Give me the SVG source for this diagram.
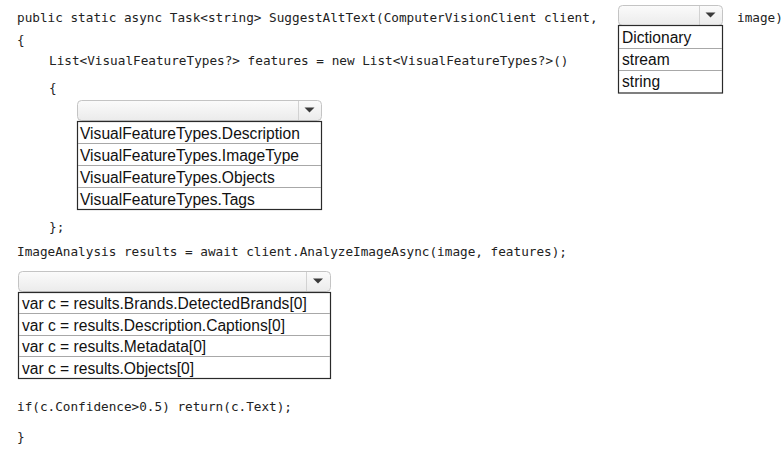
<svg xmlns="http://www.w3.org/2000/svg" width="783" height="452" viewBox="0 0 783 452">
<defs>
<linearGradient id="hdr" x1="0" y1="0" x2="0" y2="1">
<stop offset="0" stop-color="#fbfbfb"/>
<stop offset="1" stop-color="#ebebeb"/>
</linearGradient>
</defs>
<style>
.code{font-family:"DejaVu Sans Mono","Liberation Mono",monospace;font-size:12.7px;fill:#222}
.opt{font-family:"Liberation Sans",Arial,sans-serif;font-size:15.6px;fill:#111}
.hdr{fill:url(#hdr);stroke:#c4c4c4;stroke-width:1}
.sep{stroke:#d2d2d2;stroke-width:1}
.arr{fill:#3a3a3a}
.box{fill:#fff;stroke:#2a2a2a;stroke-width:1.2}
.row{stroke:#a8a8a8;stroke-width:1}
</style>
<rect width="783" height="452" fill="#fff"/>
<g id="code">
<text class="code" x="17" y="22">public static async Task&lt;string&gt; SuggestAltText(ComputerVisionClient client,</text>
<text class="code" x="737" y="22">image)</text>
<text class="code" x="17" y="44">{</text>
<text class="code" x="49" y="65">List&lt;VisualFeatureTypes?&gt; features = new List&lt;VisualFeatureTypes?&gt;()</text>
<text class="code" x="49" y="92">{</text>
<text class="code" x="49" y="231">};</text>
<text class="code" x="17" y="256">ImageAnalysis results = await client.AnalyzeImageAsync(image, features);</text>
<text class="code" x="17" y="411">if(c.Confidence&gt;0.5) return(c.Text);</text>
<text class="code" x="17" y="441">}</text>
</g>
<g id="dropdown1">
<rect class="hdr" x="618.5" y="5.5" width="104" height="20" rx="4"/>
<line class="sep" x1="699.5" y1="6" x2="699.5" y2="25"/>
<polygon class="arr" points="705.5,12.5 715.5,12.5 710.5,17.5"/>
<rect class="box" x="618.5" y="25.5" width="104" height="67.5"/>
<line class="row" x1="619" y1="48.5" x2="722" y2="48.5"/>
<line class="row" x1="619" y1="70.5" x2="722" y2="70.5"/>
<text class="opt" x="622" y="43">Dictionary</text>
<text class="opt" x="622" y="65">stream</text>
<text class="opt" x="622" y="87">string</text>
</g>
<g id="dropdown2">
<rect class="hdr" x="77.5" y="100.5" width="244" height="20" rx="4"/>
<line class="sep" x1="298.5" y1="101" x2="298.5" y2="120"/>
<polygon class="arr" points="304.5,107.5 314.5,107.5 309.5,112.5"/>
<rect class="box" x="77.5" y="121.5" width="244" height="88"/>
<line class="row" x1="78" y1="143.5" x2="321" y2="143.5"/>
<line class="row" x1="78" y1="165.5" x2="321" y2="165.5"/>
<line class="row" x1="78" y1="187.5" x2="321" y2="187.5"/>
<text class="opt" x="80" y="139">VisualFeatureTypes.Description</text>
<text class="opt" x="80" y="161">VisualFeatureTypes.ImageType</text>
<text class="opt" x="80" y="183">VisualFeatureTypes.Objects</text>
<text class="opt" x="80" y="205">VisualFeatureTypes.Tags</text>
</g>
<g id="dropdown3">
<rect class="hdr" x="18.5" y="271.5" width="312" height="20" rx="4"/>
<line class="sep" x1="306.5" y1="272" x2="306.5" y2="291"/>
<polygon class="arr" points="313,278.5 323,278.5 318,283.5"/>
<rect class="box" x="18.5" y="292.5" width="312" height="86"/>
<line class="row" x1="19" y1="313.5" x2="330" y2="313.5"/>
<line class="row" x1="19" y1="335.5" x2="330" y2="335.5"/>
<line class="row" x1="19" y1="356.5" x2="330" y2="356.5"/>
<text class="opt" x="22" y="309">var c = results.Brands.DetectedBrands[0]</text>
<text class="opt" x="22" y="331">var c = results.Description.Captions[0]</text>
<text class="opt" x="22" y="352">var c = results.Metadata[0]</text>
<text class="opt" x="22" y="374">var c = results.Objects[0]</text>
</g>
</svg>
